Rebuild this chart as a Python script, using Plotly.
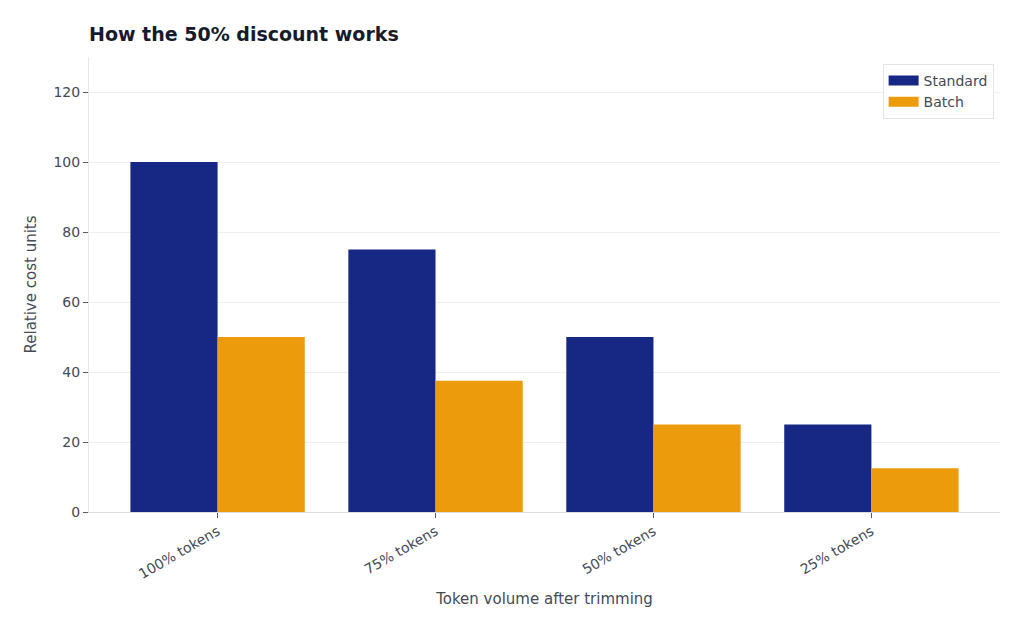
import plotly.graph_objects as go

categories = ["100% tokens", "75% tokens", "50% tokens", "25% tokens"]
standard = [100, 75, 50, 25]
batch = [50, 37.5, 25, 12.5]
series_names = ["Standard", "Batch"]
colors = ["#172884", "#EB9B0B"]

fig = go.Figure()
for name, vals, col, off in zip(series_names, [standard, batch], colors, [-0.4, 0.0]):
    fig.add_trace(go.Bar(name=name, x=categories, y=vals, marker=dict(color=col, line=dict(width=0)),
                         offset=off, width=0.4, showlegend=False))
# legend entries drawn as wide rectangles
for name, col in zip(series_names, colors):
    fig.add_trace(go.Scatter(name=name, x=[categories[0]], y=[None], mode="lines",
                             line=dict(color=col, width=10), hoverinfo="skip"))

font = "DejaVu Sans, sans-serif"
fig.update_layout(
    width=1024, height=631,
    margin=dict(l=89, r=24, t=57, b=119),
    paper_bgcolor="white", plot_bgcolor="white",
    barmode="overlay",
    font=dict(family=font, size=14, color="#444a57"),
    title=dict(text="<b>How the 50% discount works</b>", x=89/1024, xanchor="left",
               y=1-34/631, yanchor="middle", font=dict(size=19, color="#161b2b", family=font)),
    showlegend=True,
    legend=dict(x=0.993, y=0.985, xanchor="right", yanchor="top", bgcolor="white",
                bordercolor="#e2e4e8", borderwidth=1, font=dict(size=14, color="#444a57"),
                tracegroupgap=0, itemwidth=30),
    xaxis=dict(
        type="category", range=[-0.59, 3.59],
        tickangle=-30, ticks="outside", ticklen=5, tickcolor="#555a66",
        showline=True, linecolor="#dcdee3", linewidth=1, showgrid=False,
        title=dict(text="Token volume after trimming", font=dict(size=15, color="#444a57"), standoff=12),
        tickfont=dict(size=14, color="#444a57"),
    ),
    yaxis=dict(
        range=[0, 130], tickvals=[0, 20, 40, 60, 80, 100, 120],
        ticks="outside", ticklen=5, tickcolor="#555a66",
        showline=True, linecolor="#e6e7ea", linewidth=1,
        showgrid=True, gridcolor="#eeeff1", gridwidth=1, zeroline=False,
        title=dict(text="Relative cost units", font=dict(size=15, color="#444a57"), standoff=13),
        tickfont=dict(size=14, color="#444a57"),
    ),
)
fig.write_html("out.html")
